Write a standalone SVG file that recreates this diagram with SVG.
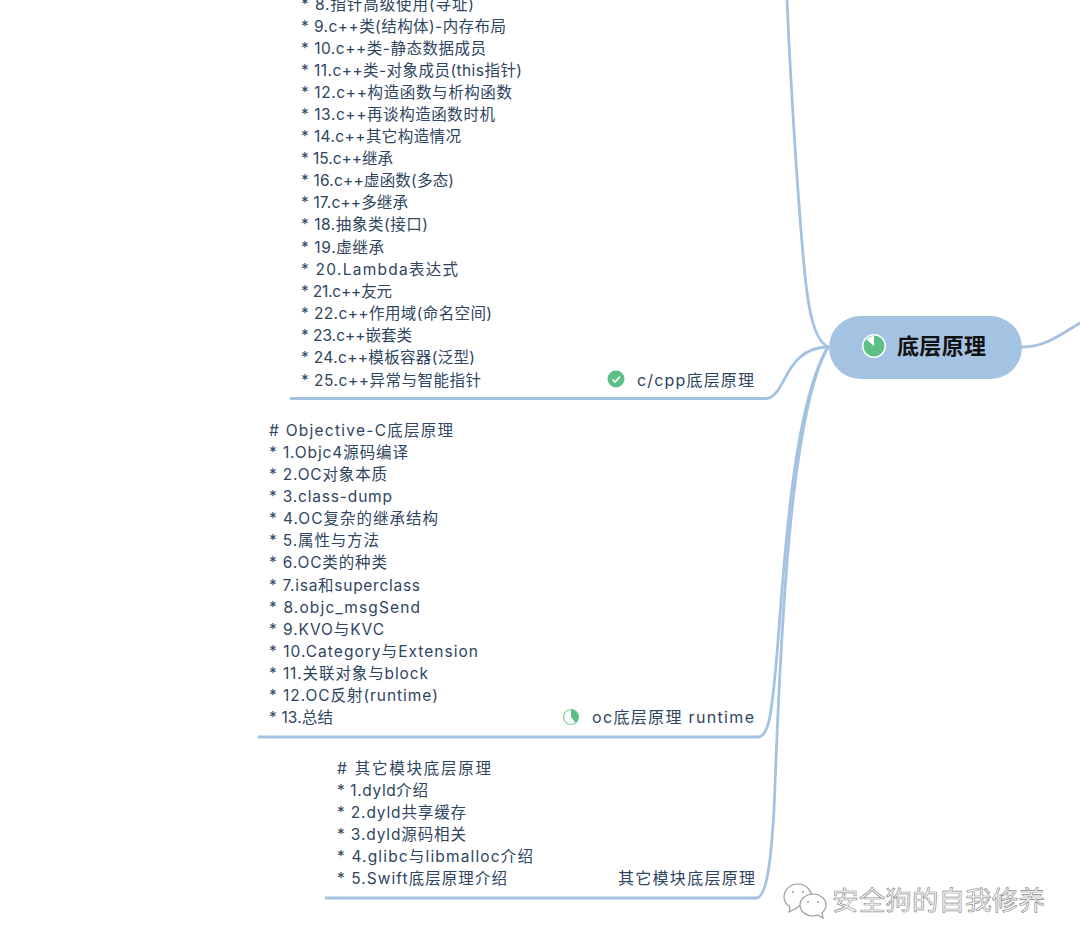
<svg xmlns="http://www.w3.org/2000/svg" width="1080" height="948" viewBox="0 0 1080 948">
<style>
text{font-family:Inter,"Noto Sans CJK SC",sans-serif}
.n{font-size:15.5px;fill:#2f4560}
.t{font-size:16px;fill:#2f4560}
.c{fill:none;stroke:#a4c2e1;stroke-width:2.8;stroke-linecap:round}
.g{fill:#5dbf85}
.w{font-size:26.5px;fill:#fff;stroke:#8e8e8e;stroke-width:.7}
.wi{fill:#fff;stroke:#9a9a9a;stroke-width:1.2}
</style>
<rect width="1080" height="948" fill="#fff"/>
<g id="connectors">
<path class="c" d="M787,0C790,70 797,190 804,265C808,310 814,340 828,347"/>
<path class="c" d="M291,398.500H766C786,398 784,347 828,347"/>
<path class="c" d="M259,737H758C770,737 772,705 776,665C783,590 790,410 828,347"/>
<path class="c" d="M326,898H756C767,898 771,860 774,810C779,690 786,420 828,347"/>
<path class="c" d="M1022,347C1045,347 1060,335 1080,323"/>
</g>
<g id="root">
<rect x="829" y="316" width="193" height="63" rx="31.500" fill="#a4c2e1"/>
<circle cx="874" cy="346" r="12" fill="#fff"/>
<circle cx="874" cy="346" r="10.500" class="g"/>
<path d="M874,346V336A10,10 0 0 0 866.500,339.500Z" fill="#fff"/>
<text x="897" y="354" font-size="22" font-weight="700" fill="#111" textLength="89">底层原理</text>
</g>
<g id="cpp">
<text class="n" x="301" y="10" textLength="173">* 8.指针高级使用(寻址)</text>
<text class="n" x="301" y="32" textLength="205">* 9.c++类(结构体)-内存布局</text>
<text class="n" x="301" y="54" textLength="185">* 10.c++类-静态数据成员</text>
<text class="n" x="301" y="76" textLength="221">* 11.c++类-对象成员(this指针)</text>
<text class="n" x="301" y="98" textLength="211">* 12.c++构造函数与析构函数</text>
<text class="n" x="301" y="120" textLength="194">* 13.c++再谈构造函数时机</text>
<text class="n" x="301" y="142" textLength="160">* 14.c++其它构造情况</text>
<text class="n" x="301" y="164" textLength="92">* 15.c++继承</text>
<text class="n" x="301" y="186" textLength="153">* 16.c++虚函数(多态)</text>
<text class="n" x="301" y="208" textLength="107">* 17.c++多继承</text>
<text class="n" x="301" y="230" textLength="127">* 18.抽象类(接口)</text>
<text class="n" x="301" y="253" textLength="83">* 19.虚继承</text>
<text class="n" x="301" y="275" textLength="157">* 20.Lambda表达式</text>
<text class="n" x="301" y="297" textLength="91">* 21.c++友元</text>
<text class="n" x="301" y="319" textLength="191">* 22.c++作用域(命名空间)</text>
<text class="n" x="301" y="341" textLength="111">* 23.c++嵌套类</text>
<text class="n" x="301" y="363" textLength="174">* 24.c++模板容器(泛型)</text>
<text class="n" x="301" y="386" textLength="180">* 25.c++异常与智能指针</text>
<circle cx="616" cy="379" r="8.500" class="g"/>
<path d="M612.500,379.500L615,382L620,376.500" fill="none" stroke="#fff" stroke-width="1.600"/>
<text class="t" x="637" y="386" textLength="117">c/cpp底层原理</text>
</g>
<g id="oc">
<text class="n" x="269" y="436" textLength="184"># Objective-C底层原理</text>
<text class="n" x="269" y="458" textLength="139">* 1.Objc4源码编译</text>
<text class="n" x="269" y="480" textLength="118">* 2.OC对象本质</text>
<text class="n" x="269" y="502" textLength="123">* 3.class-dump</text>
<text class="n" x="269" y="524" textLength="169">* 4.OC复杂的继承结构</text>
<text class="n" x="269" y="546" textLength="110">* 5.属性与方法</text>
<text class="n" x="269" y="568" textLength="118">* 6.OC类的种类</text>
<text class="n" x="269" y="591" textLength="151">* 7.isa和superclass</text>
<text class="n" x="269" y="613" textLength="151">* 8.objc_msgSend</text>
<text class="n" x="269" y="635" textLength="115">* 9.KVO与KVC</text>
<text class="n" x="269" y="657" textLength="209">* 10.Category与Extension</text>
<text class="n" x="269" y="679" textLength="159">* 11.关联对象与block</text>
<text class="n" x="269" y="701" textLength="169">* 12.OC反射(runtime)</text>
<text class="n" x="269" y="723" textLength="64">* 13.总结</text>
<circle cx="571" cy="717" r="7.500" fill="#fff" stroke="#7fd0a0" stroke-width="1.200"/>
<path d="M571,717V709.500A7.500,7.500 0 0 1 575.500,723Z" class="g"/>
<text class="t" x="592" y="723" textLength="162">oc底层原理 runtime</text>
</g>
<g id="other">
<text class="n" x="337" y="774" textLength="154"># 其它模块底层原理</text>
<text class="n" x="337" y="796" textLength="91">* 1.dyld介绍</text>
<text class="n" x="337" y="818" textLength="129">* 2.dyld共享缓存</text>
<text class="n" x="337" y="840" textLength="129">* 3.dyld源码相关</text>
<text class="n" x="337" y="862" textLength="196">* 4.glibc与libmalloc介绍</text>
<text class="n" x="337" y="884" textLength="170">* 5.Swift底层原理介绍</text>
<text class="t" x="618" y="884" textLength="137">其它模块底层原理</text>
</g>
<g id="watermark">
<path class="wi" d="M798,884C790,884 784,890 784,897C784,902 787,905 790,907L789,912L795,909L812,897C811,890 806,884 798,884Z"/>
<path class="wi" d="M813,894C806,894 800,899 800,905C800,911 806,916 813,916C815,916 817,915 818,915L823,918L822,913C824,911 826,908 826,905C826,899 820,894 813,894Z"/>
<circle cx="793" cy="892" r="1" fill="#999"/><circle cx="803" cy="892" r="1" fill="#999"/>
<circle cx="808" cy="902" r="1" fill="#999"/><circle cx="818" cy="902" r="1" fill="#999"/>
<text class="w" x="832" y="910" textLength="213">安全狗的自我修养</text>
</g>
</svg>
